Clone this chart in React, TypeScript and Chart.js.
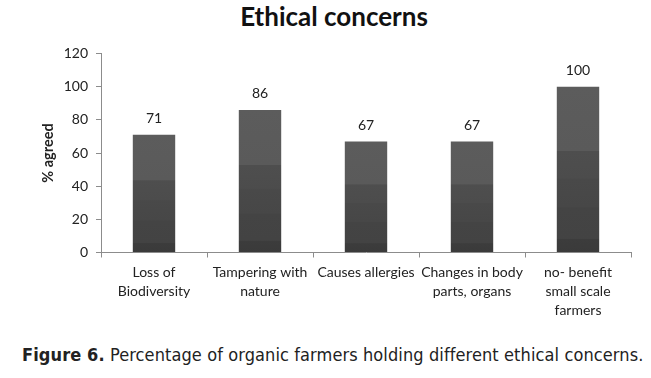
import React, { useEffect, useRef } from "react";
import { Chart, registerables } from "chart.js";
Chart.register(...registerables);

const chartTitle = "Ethical concerns";
const yAxisTitle = "% agreed";
const categories: string[][] = [
  ["Loss of", "Biodiversity"],
  ["Tampering with", "nature"],
  ["Causes allergies"],
  ["Changes in body", "parts, organs"],
  ["no- benefit", "small scale", "farmers"],
];
const values: number[] = [71, 86, 67, 67, 100];
const yTicks: number[] = [0, 20, 40, 60, 80, 100, 120];
const captionBold = "Figure 6.";
const captionText = " Percentage of organic farmers holding different ethical concerns.";

const TEXT = "#222222";
const AXIS = "#8c8c8c";

const valueLabels = {
  id: "valueLabels",
  afterDatasetsDraw(chart: any) {
    const { ctx } = chart;
    const meta = chart.getDatasetMeta(0);
    ctx.save();
    ctx.font = "14px Lato";
    ctx.fillStyle = TEXT;
    ctx.textAlign = "center";
    ctx.textBaseline = "middle";
    meta.data.forEach((bar: any, i: number) => {
      ctx.fillText(String(values[i]), bar.x, bar.y - 16);
    });
    ctx.restore();
  },
};

function barFill(context: any) {
  const chart = context.chart;
  const y = chart.scales && chart.scales.y;
  if (!y || context.type !== "data") return "#4d4d4d";
  const top = y.getPixelForValue(context.raw);
  const base = y.getPixelForValue(0);
  if (!isFinite(top) || !isFinite(base) || top === base) return "#4d4d4d";
  const g = chart.ctx.createLinearGradient(0, top, 0, base);
  g.addColorStop(0, "#5c5c5c");
  g.addColorStop(0.385, "#5a5a5a");
  g.addColorStop(0.39, "#4e4e4e");
  g.addColorStop(0.55, "#4c4c4c");
  g.addColorStop(0.56, "#494949");
  g.addColorStop(0.725, "#474747");
  g.addColorStop(0.73, "#444444");
  g.addColorStop(0.915, "#434343");
  g.addColorStop(0.92, "#3c3c3c");
  g.addColorStop(1, "#3a3a3a");
  return g;
}

export default function App() {
  const ref = useRef<HTMLCanvasElement | null>(null);
  useEffect(() => {
    if (!ref.current) return;
    const chart = new Chart(ref.current, {
      type: "bar",
      data: {
        labels: categories,
        datasets: [
          {
            data: values,
            backgroundColor: barFill,
            borderWidth: 0,
            barPercentage: 0.4,
            categoryPercentage: 1,
          },
        ],
      },
      options: {
        animation: false,
        responsive: false,
        maintainAspectRatio: false,
        layout: { padding: { top: 53.5, left: 40, right: 20, bottom: 0 } },
        plugins: {
          legend: { display: false },
          tooltip: { enabled: false },
          title: { display: false },
        },
        scales: {
          x: {
            afterFit: (s: any) => {
              s.height = 77.5;
            },
            border: { display: true, color: AXIS, width: 1 },
            grid: {
              display: true,
              drawOnChartArea: false,
              drawTicks: true,
              tickLength: 5,
              color: AXIS,
              offset: true,
            },
            ticks: {
              color: TEXT,
              font: { family: "Lato", size: 14, lineHeight: 1.35 },
              maxRotation: 0,
              minRotation: 0,
              autoSkip: false,
              padding: 6,
            },
          },
          y: {
            min: 0,
            max: 120,
            afterFit: (s: any) => {
              s.width = 61;
            },
            afterBuildTicks: (s: any) => {
              s.ticks = yTicks.map((v) => ({ value: v }));
            },
            border: { display: true, color: AXIS, width: 1 },
            grid: {
              display: true,
              drawOnChartArea: false,
              drawTicks: true,
              tickLength: 5,
              color: AXIS,
            },
            ticks: {
              color: TEXT,
              font: { family: "Lato", size: 14 },
              padding: 8,
            },
            title: {
              display: true,
              text: yAxisTitle,
              color: TEXT,
              font: { family: "Lato", size: 14.5, weight: "bold" },
              padding: 0,
            },
          },
        },
      },
      plugins: [valueLabels],
    });
    return () => chart.destroy();
  }, []);

  return (
    <div style={{ position: "absolute", top: 0, left: 0, width: 651, height: 378, background: "#fff", overflow: "hidden" }}>
      <div
        style={{
          position: "absolute",
          top: 1,
          left: 0,
          width: 668,
          textAlign: "center",
          fontFamily: "Lato",
          fontWeight: "bold",
          fontSize: 26,
          lineHeight: "30px",
          color: "#111",
          whiteSpace: "nowrap",
        }}
      >
        {chartTitle}
      </div>
      <canvas ref={ref} width={651} height={330} style={{ position: "absolute", top: 0, left: 0 }} />
      <div
        style={{
          position: "absolute",
          top: 344,
          left: 22,
          fontFamily: "'DejaVu Sans Condensed', 'Liberation Sans Narrow', sans-serif",
          fontSize: 18,
          lineHeight: "22px",
          letterSpacing: "0.1px",
          color: "#222",
          whiteSpace: "nowrap",
        }}
      >
        <b>{captionBold}</b>
        {captionText}
      </div>
    </div>
  );
}
